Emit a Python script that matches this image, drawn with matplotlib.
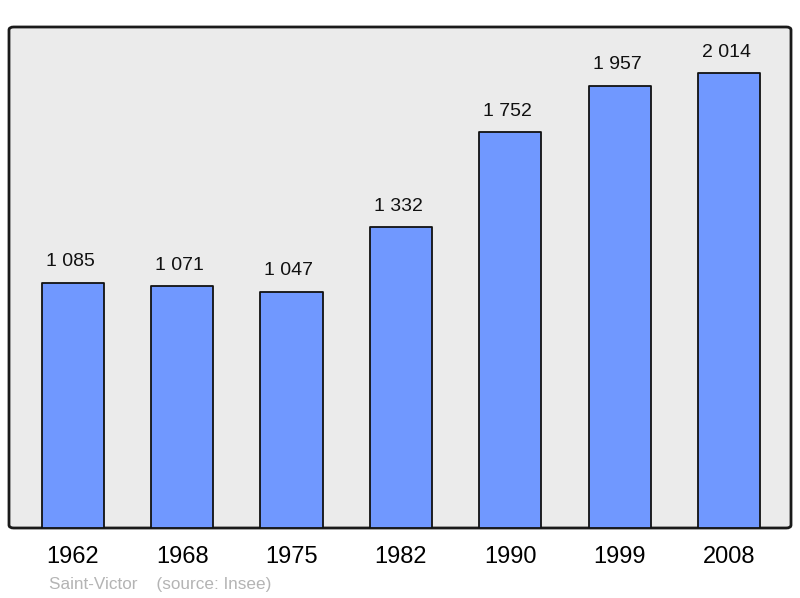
import matplotlib.pyplot as plt
from matplotlib.patches import FancyBboxPatch

years = ["1962", "1968", "1975", "1982", "1990", "1999", "2008"]
population = [1085, 1071, 1047, 1332, 1752, 1957, 2014]
value_labels = ["1 085", "1 071", "1 047", "1 332", "1 752", "1 957", "2 014"]
footer = "Saint-Victor    (source: Insee)"

plt.rcParams["font.family"] = ["Liberation Sans", "DejaVu Sans"]

fig = plt.figure(figsize=(8, 5.98), dpi=100)
ax = fig.add_axes([9 / 800, 70 / 598, 782 / 800, 501 / 598])
ax.set_facecolor("none")

# frame with rounded corners
frame = FancyBboxPatch((0, 0), 1, 1, boxstyle="round,pad=0,rounding_size=0.006",
                       transform=ax.transAxes, facecolor="#ebebeb",
                       edgecolor="#1a1a1a", linewidth=2, zorder=0, clip_on=False)
ax.add_patch(frame)

x = list(range(len(years)))
bars = ax.bar(x, population, width=0.57, color="#7098ff", edgecolor="#111111",
              linewidth=1.3, zorder=2)
for b in bars:
    b.set_joinstyle("round")

for xi, v, lab in zip(x, population, value_labels):
    ax.annotate(lab, (xi, v), xytext=(-2, 9), textcoords="offset points",
                ha="center", va="bottom", fontsize=14, color="#111111")

ax.set_xlim(-0.585, 6.567)
ax.set_ylim(0, 2218)
for s in ax.spines.values():
    s.set_visible(False)
ax.set_yticks([])
ax.set_xticks(x)
ax.set_xticklabels(years, fontsize=17)
ax.tick_params(axis="x", length=0, pad=13)

fig.text(49 / 800, 1 - 584 / 598, footer, fontsize=12.3, color="#b4b4b4",
         ha="left", va="center")

fig.savefig("out.png", dpi=100)
